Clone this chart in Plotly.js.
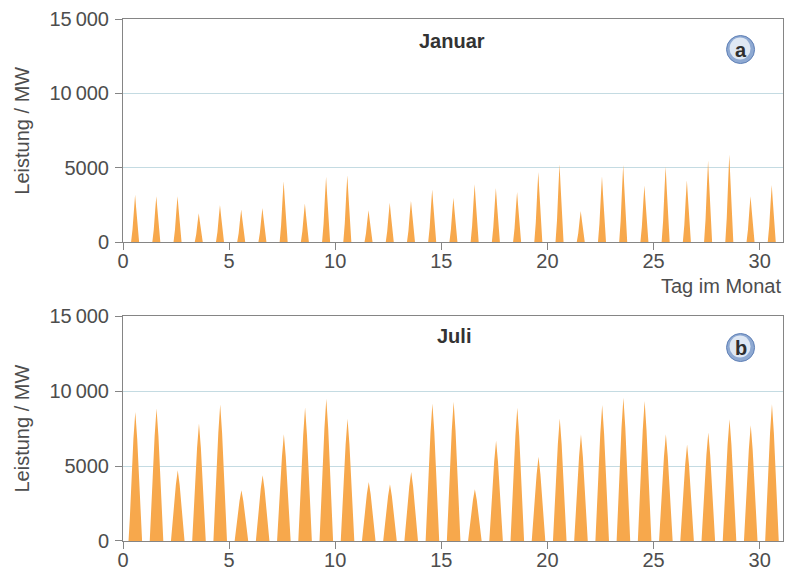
<!DOCTYPE html>
<html>
<head>
<meta charset="utf-8">
<script src="https://cdn.plot.ly/plotly-3.0.1.min.js"></script>
<style>html,body{margin:0;padding:0;background:#fff;}#chart{width:789px;height:572px;}</style>
</head>
<body>
<div id="chart"></div>
<script>
// ---- data ----
const days = [1,2,3,4,5,6,7,8,9,10,11,12,13,14,15,16,17,18,19,20,21,22,23,24,25,26,27,28,29,30,31];
const janPeak = [3200,3100,3100,1950,2500,2200,2300,4100,2600,4400,4500,2150,2650,2800,3550,3000,3900,3650,3380,4720,5250,2100,4440,5200,3820,5100,4170,5500,5900,3100,3850];
const julPeak = [8600,8840,4720,7840,9100,3380,4380,7120,8900,9480,8150,3940,3780,4600,9170,9280,3450,6680,8880,5610,8170,7120,9060,9550,9330,7120,6430,7240,8120,7720,9120];
// daily generation profile (offset in days from the midday peak, share of the peak)
const janProfileOffset = [-0.19,-0.12,-0.05,0,0.05,0.12,0.19];
const janProfileShare  = [0,0.28,0.72,1,0.72,0.28,0];
const julProfileOffset = [-0.32,-0.26,-0.18,-0.09,0,0.09,0.18,0.26,0.32];
const julProfileShare  = [0,0.17,0.48,0.79,1,0.79,0.48,0.17,0];
const yTickVals = [0,5000,10000,15000];
const yTickText = ['0','5000','10\u2009000','15\u2009000'];
const xTickVals = [0,5,10,15,20,25,30];

function buildSeries(peaks, offs, shares, noon){
  const x=[0], y=[0];
  days.forEach((d,i)=>{
    offs.forEach((o,k)=>{ x.push(d-1+noon+o); y.push(peaks[i]*shares[k]); });
  });
  x.push(31.1); y.push(0);
  return {x,y};
}
const jan = buildSeries(janPeak, janProfileOffset, janProfileShare, 0.57);
const jul = buildSeries(julPeak, julProfileOffset, julProfileShare, 0.58);

const orange = '#F7A84C';
const FONT = 'Liberation Sans, Arial, sans-serif';
const tickFont = {family: FONT, size: 20, color: '#4d4d4d'};

const traces = [
  {x: jan.x, y: jan.y, xaxis:'x2', yaxis:'y2', type:'scatter', mode:'lines',
   fill:'tozeroy', fillcolor: orange, line:{width:0, color: orange}, hoverinfo:'skip'},
  {x: jul.x, y: jul.y, xaxis:'x', yaxis:'y', type:'scatter', mode:'lines',
   fill:'tozeroy', fillcolor: orange, line:{width:0, color: orange}, hoverinfo:'skip'}
];

const axisCommon = {
  showline:true, linecolor:'#858585', linewidth:1, mirror:true,
  ticks:'outside', ticklen:7, tickcolor:'#858585', tickwidth:1,
  tickfont: tickFont, zeroline:false, fixedrange:true
};
const xCommon = Object.assign({}, axisCommon, {range:[0,31.1], tickvals:xTickVals, showgrid:false, ticklabelstandoff:-6});
const yCommon = Object.assign({}, axisCommon, {range:[0,15000], tickvals:yTickVals, ticktext:yTickText,
  showgrid:true, gridcolor:'#c4dbe2', gridwidth:1, ticklabelstandoff:2});

function badge(xa, ya, yanchorVal){
  return [
    {type:'circle', xref:xa, yref:ya, xsizemode:'pixel', ysizemode:'pixel',
     xanchor:29.1, yanchor:yanchorVal, x0:-14, x1:14, y0:-14, y1:14,
     fillcolor:'#8ea9d2', line:{color:'#5f80b6', width:1}},
    {type:'circle', xref:xa, yref:ya, xsizemode:'pixel', ysizemode:'pixel',
     xanchor:29.1, yanchor:yanchorVal, x0:-11, x1:10, y0:-10, y1:12,
     fillcolor:'#dfe8f4', line:{width:0}}
  ];
}

const layout = {
  width:789, height:572,
  margin:{l:123, r:6, t:19, b:31},
  paper_bgcolor:'#ffffff', plot_bgcolor:'#ffffff',
  showlegend:false,
  xaxis: Object.assign({}, xCommon, {anchor:'y', domain:[0,1]}),
  yaxis: Object.assign({}, yCommon, {anchor:'x', domain:[0,0.431]}),
  xaxis2: Object.assign({}, xCommon, {anchor:'y2', domain:[0,1]}),
  yaxis2: Object.assign({}, yCommon, {anchor:'x2', domain:[0.5722,1]}),
  shapes: [].concat(badge('x2','y2',12950), badge('x','y',12900)),
  annotations: [
    {text:'Januar', xref:'x2', yref:'y2', x:15.5, y:13550, showarrow:false,
     font:{family:FONT, size:20, color:'#333333', weight:'bold'}},
    {text:'Juli', xref:'x', yref:'y', x:15.6, y:13700, showarrow:false,
     font:{family:FONT, size:20, color:'#333333', weight:'bold'}},
    {text:'a', xref:'x2', yref:'y2', x:29.1, y:12950, showarrow:false,
     font:{family:FONT, size:20, color:'#2f2f2f', weight:'bold'}},
    {text:'b', xref:'x', yref:'y', x:29.1, y:12900, showarrow:false,
     font:{family:FONT, size:20, color:'#2f2f2f', weight:'bold'}},
    {text:'Tag im Monat', xref:'paper', yref:'paper', x:1, xanchor:'right',
     y:0.5722, yanchor:'top', yshift:-31, showarrow:false,
     font:{family:FONT, size:20, color:'#4d4d4d'}},
    {text:'Leistung / MW', xref:'paper', yref:'y2', x:0, xanchor:'center', xshift:-101, y:7500, textangle:-90,
     showarrow:false, font:{family:FONT, size:20, color:'#4d4d4d'}},
    {text:'Leistung / MW', xref:'paper', yref:'y', x:0, xanchor:'center', xshift:-101, y:7500, textangle:-90,
     showarrow:false, font:{family:FONT, size:20, color:'#4d4d4d'}}
  ]
};

Plotly.newPlot('chart', traces, layout, {displayModeBar:false, staticPlot:true});
</script>
</body>
</html>
